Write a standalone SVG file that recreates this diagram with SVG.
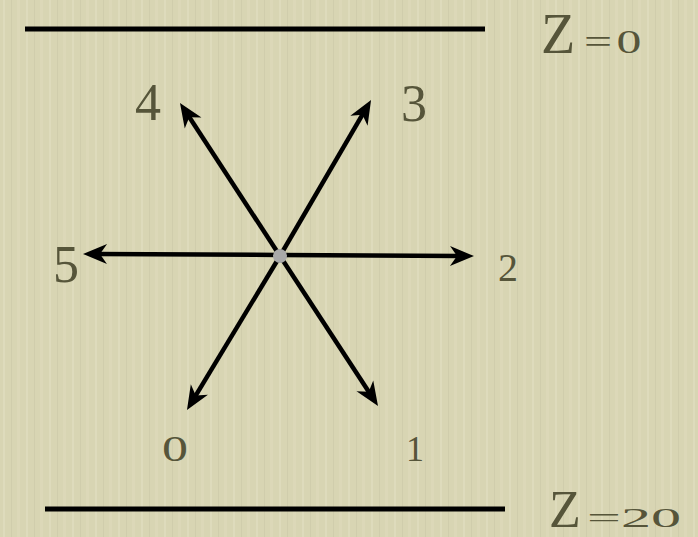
<svg xmlns="http://www.w3.org/2000/svg" width="698" height="537" viewBox="0 0 698 537">
  <style>
    .lbl { font-family: "Liberation Serif", "Times New Roman", serif; fill: #56553a; }
    .bar { stroke: #000; stroke-width: 5; }
    .arr { stroke: #000; stroke-width: 4.5; fill: none; marker-end: url(#head); }
  </style>
  <defs>
    <pattern id="tex" width="23" height="537" patternUnits="userSpaceOnUse">
      <rect width="23" height="537" fill="#d8d5b3"/>
      <rect x="3" width="2" height="537" fill="#e2dfc2" opacity="0.6"/>
      <rect x="11" width="1" height="537" fill="#ccc8a6" opacity="0.6"/>
      <rect x="17" width="3" height="537" fill="#dfdcbe" opacity="0.5"/>
    </pattern>
    <marker id="head" markerUnits="userSpaceOnUse" markerWidth="32" markerHeight="26" viewBox="-14 -13 32 26" refX="0" refY="0" orient="auto">
      <path d="M13,0 L-11,-10 L-4,0 L-11,10 Z" fill="#000"/>
    </marker>
  </defs>
  <rect width="698" height="537" fill="url(#tex)"/>

  <g id="boundary-top">
    <line class="bar" x1="25" y1="29" x2="485" y2="29"/>
    <text class="lbl" x="541" y="53" font-size="56">Z</text>
    <text class="lbl" x="584" y="53" font-size="33" letter-spacing="3" textLength="62" lengthAdjust="spacingAndGlyphs">=0</text>
  </g>
  <g id="boundary-bottom">
    <line class="bar" x1="45" y1="509" x2="505" y2="509"/>
    <text class="lbl" x="549" y="527" font-size="52">Z</text>
    <text class="lbl" x="587" y="527" font-size="28" textLength="94" lengthAdjust="spacingAndGlyphs">=20</text>
  </g>

  <g id="connectors">
    <line class="arr" x1="280" y1="256" x2="187.1" y2="113.8"/>
    <line class="arr" x1="280" y1="256" x2="364.5" y2="111.2"/>
    <line class="arr" x1="280" y1="255" x2="96" y2="254"/>
    <line class="arr" x1="280" y1="255" x2="461" y2="256"/>
    <line class="arr" x1="280" y1="256" x2="193.7" y2="398.9"/>
    <line class="arr" x1="280" y1="256" x2="370.9" y2="395.1"/>
  </g>

  <g id="center">
    <circle cx="280" cy="256" r="7" fill="#a9a9a9"/>
  </g>

  <g id="dir-0"><text class="lbl" x="162" y="461" font-size="36" textLength="26" lengthAdjust="spacingAndGlyphs">0</text></g>
  <g id="dir-1"><text class="lbl" x="415" y="461" font-size="36" text-anchor="middle">1</text></g>
  <g id="dir-2"><text class="lbl" x="508" y="281" font-size="40" text-anchor="middle">2</text></g>
  <g id="dir-3"><text class="lbl" x="414" y="121" font-size="52" text-anchor="middle">3</text></g>
  <g id="dir-4"><text class="lbl" x="148" y="120" font-size="52" text-anchor="middle">4</text></g>
  <g id="dir-5"><text class="lbl" x="66" y="282" font-size="52" text-anchor="middle">5</text></g>
</svg>
